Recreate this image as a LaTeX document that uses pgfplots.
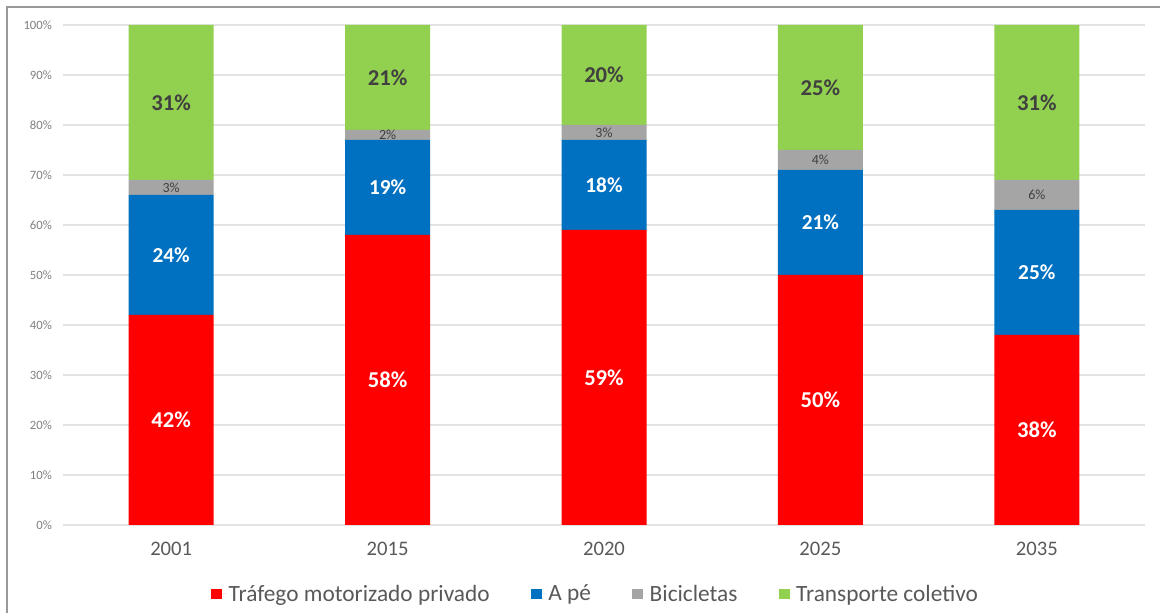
\documentclass[border=0pt]{standalone}
\usepackage{pgfplots}
\pgfplotsset{compat=1.18}
\usepackage{pgfplotstable}
\usepackage{fontspec}
\setmainfont{Carlito}
\definecolor{cred}{HTML}{FF0000}
\definecolor{cblue}{HTML}{0070C0}
\definecolor{cgray}{HTML}{A5A5A5}
\definecolor{cgreen}{HTML}{92D050}
\definecolor{ticktxt}{HTML}{7F7F7F}
\definecolor{txt}{HTML}{595959}
\definecolor{gridc}{HTML}{E3E3E3}
\definecolor{darktxt}{HTML}{404040}
\pgfplotstableread{
x car ape bic col
0 42 24 3 31
1 58 19 2 21
2 59 18 3 20
3 50 21 4 25
4 38 25 6 31
}\data
\pgfplotsset{
  base/.style={
    at={(47.25pt,66pt)}, anchor=south west,
    scale only axis, width=811.5pt, height=375pt,
    xmin=-0.5, xmax=4.5, ymin=0, ymax=100,
    /pgf/number format/assume math mode=true,
  },
  lbl/.style={draw=none, mark=none, forget plot,
    nodes near coords={\pgfmathprintnumber[fixed,precision=0]{\pgfplotspointmeta}\%},
    nodes near coords align=center,
    every node near coord/.append style={anchor=center, inner sep=0pt}},
}
\begin{document}
\begin{tikzpicture}
\draw[color=black!40, line width=1pt] (5.25pt,-10pt) rectangle (880pt,454.5pt);
\begin{axis}[base,
  ybar stacked, bar width=63.75pt,
  axis line style={draw=none},
  major tick length=0pt,
  ymajorgrids, grid style={gridc, line width=0.8pt},
  ytick={0,10,...,100},
  yticklabels={0\%,10\%,20\%,30\%,40\%,50\%,60\%,70\%,80\%,90\%,100\%},
  yticklabel style={font=\fontsize{9.5}{10}\selectfont, text=ticktxt, xshift=-4.8pt},
  xtick={0,1,2,3,4},
  xticklabels={2001,2015,2020,2025,2035},
  xticklabel style={font=\fontsize{15.5}{17}\selectfont, text=txt, yshift=-9.5pt},
  legend columns=-1,
  legend style={at={(0.4926,-0.138)}, anchor=center, draw=none, fill=none,
    font=\fontsize{17.5}{19}\selectfont, text=txt,
    /tikz/every even column/.append style={column sep=29pt}},
  legend image code/.code={\fill[#1] (0pt,-4pt) rectangle (8pt,4pt); \path (0pt,0pt) -- (11pt,0pt);},
]
\addplot[fill=cred, draw=none] table[x=x, y=car] {\data};
\addplot[fill=cblue, draw=none] table[x=x, y=ape] {\data};
\addplot[fill=cgray, draw=none] table[x=x, y=bic] {\data};
\addplot[fill=cgreen, draw=none] table[x=x, y=col] {\data};
\legend{Tráfego motorizado privado, A pé, Bicicletas, Transporte coletivo}
\end{axis}
\begin{axis}[base, hide axis]
\addplot[lbl, point meta=\thisrow{car},
  every node near coord/.append style={font=\bfseries\fontsize{17}{19}\selectfont, text=white}]
  table[x=x, y expr=\thisrow{car}/2] {\data};
\addplot[lbl, point meta=\thisrow{ape},
  every node near coord/.append style={font=\bfseries\fontsize{16}{18}\selectfont, text=white}]
  table[x=x, y expr=\thisrow{car}+\thisrow{ape}/2] {\data};
\addplot[lbl, point meta=\thisrow{bic},
  every node near coord/.append style={font=\fontsize{10.5}{11}\selectfont, text=darktxt}]
  table[x=x, y expr=\thisrow{car}+\thisrow{ape}+\thisrow{bic}/2] {\data};
\addplot[lbl, point meta=\thisrow{col},
  every node near coord/.append style={font=\bfseries\fontsize{17}{19}\selectfont, text=darktxt}]
  table[x=x, y expr=\thisrow{car}+\thisrow{ape}+\thisrow{bic}+\thisrow{col}/2] {\data};
\end{axis}
\pgfresetboundingbox
\useasboundingbox (0,0) rectangle (870pt,459.75pt);
\end{tikzpicture}
\end{document}
